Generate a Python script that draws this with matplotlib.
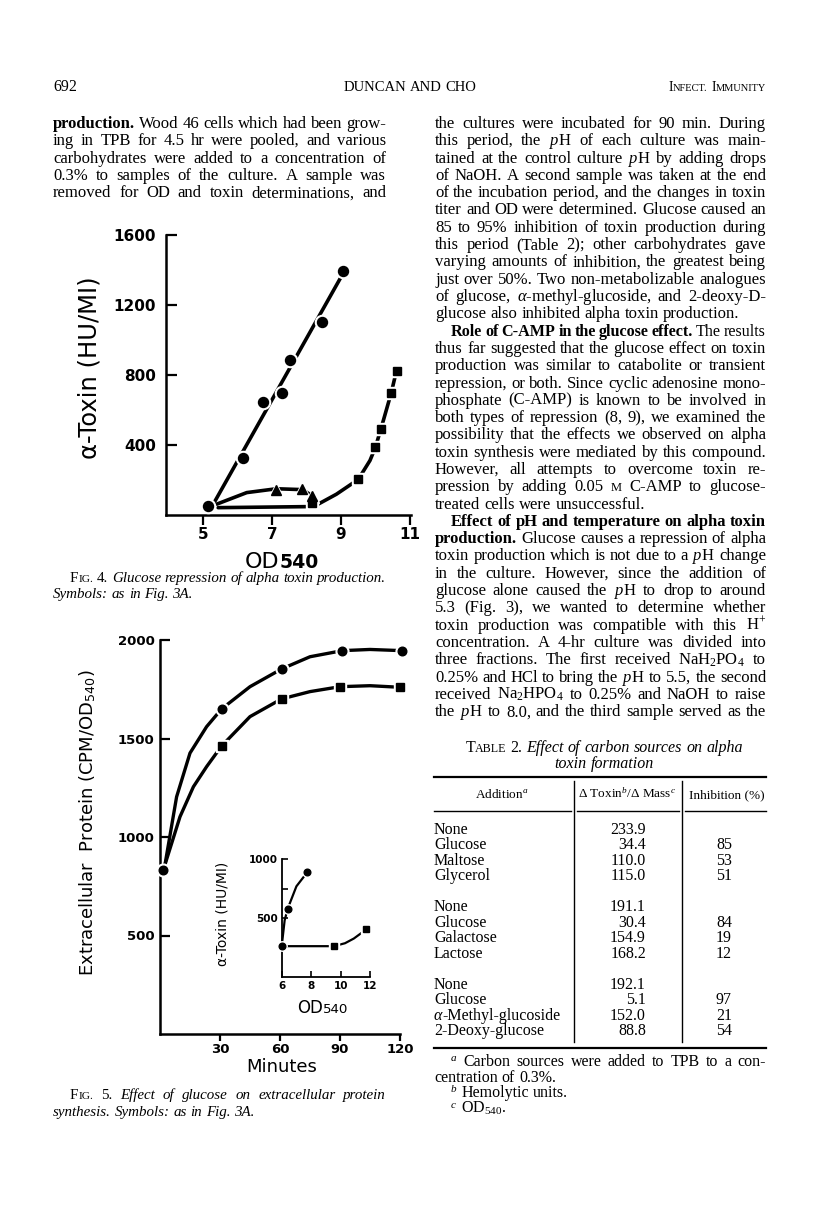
import matplotlib.pyplot as plt

W, H = 816, 1228
SERIF = 'Liberation Serif'
SANS = 'DejaVu Sans'

plt.rcParams['mathtext.fontset'] = 'custom'
plt.rcParams['mathtext.rm'] = 'Liberation Serif'
plt.rcParams['mathtext.it'] = 'Liberation Serif:italic'
plt.rcParams['mathtext.bf'] = 'Liberation Serif:bold'
plt.rcParams['mathtext.sf'] = 'DejaVu Sans'

# ── Fig. 4 data (OD540 vs alpha toxin) ───────────────────────────────────────
F4_XTICKS = [5, 7, 9, 11]
F4_YTICKS = [400, 800, 1200, 1600]
F4_CIRC_X = [5.14, 6.17, 6.73, 7.28, 7.53, 8.44, 9.05]
F4_CIRC_Y = [52, 326, 645, 695, 886, 1101, 1394]
F4_LINE_X = [5.30, 9.02]
F4_LINE_Y = [62, 1366]
F4_TRI_X = [7.13, 7.88, 8.17]
F4_TRI_Y = [142, 148, 108]
F4_TRI_CURVE_X = [5.40, 6.27, 7.13, 7.88, 8.17]
F4_TRI_CURVE_Y = [62, 128, 150, 145, 110]
F4_FLAT_X = [5.44, 8.10]
F4_FLAT_Y = [42, 48]
F4_SQ_X = [8.15, 9.50, 10.00, 10.15, 10.46, 10.61]
F4_SQ_Y = [67, 203, 387, 491, 700, 825]
F4_SQ_CURVE_X = [8.34, 8.87, 9.50, 9.84, 10.00, 10.23, 10.46, 10.61]
F4_SQ_CURVE_Y = [62, 119, 203, 311, 387, 541, 700, 825]

# ── Fig. 5 data (minutes vs extracellular protein) ───────────────────────────
F5_XTICKS = [30, 60, 90, 120]
F5_YTICKS = [500, 1000, 1500, 2000]
F5_CIRC_X = [1.7, 30.8, 60.8, 91.2, 120.8]
F5_CIRC_Y = [832, 1650, 1853, 1946, 1946]
F5_SQ_X = [30.8, 60.8, 90.0, 120.0]
F5_SQ_Y = [1462, 1701, 1763, 1760]
F5_CIRC_CURVE_X = [2.5, 8.3, 15, 23.3, 30.8, 45, 60.8, 75, 91.2, 105, 120.8]
F5_CIRC_CURVE_Y = [860, 1204, 1426, 1560, 1650, 1763, 1853, 1915, 1946, 1952, 1946]
F5_SQ_CURVE_X = [2.5, 10, 16.7, 23.3, 30.8, 45, 60.8, 75, 90, 105, 120]
F5_SQ_CURVE_Y = [860, 1103, 1255, 1357, 1462, 1611, 1701, 1738, 1763, 1768, 1760]

# inset
INS_XTICKS = [6, 8, 10, 12]
INS_YTICKS = [500, 1000]
INS_YMINOR = [250, 750]
INS_CIRC_X = [6.0, 6.41, 7.74]
INS_CIRC_Y = [260, 580, 890]
INS_SQ_X = [9.54, 11.76]
INS_SQ_Y = [260, 404]
INS_CIRC_CURVE_X = [6.0, 6.2, 6.41, 7.0, 7.74]
INS_CIRC_CURVE_Y = [260, 480, 580, 770, 890]
INS_SQ_CURVE_X = [6.0, 9.54, 10.3, 10.9, 11.76]
INS_SQ_CURVE_Y = [260, 260, 285, 325, 404]

# ── Table 2 data ─────────────────────────────────────────────────────────────
TABLE_ADDITION = ['None', 'Glucose', 'Maltose', 'Glycerol',
                  'None', 'Glucose', 'Galactose', 'Lactose',
                  'None', 'Glucose', '\u03b1-Methyl-glucoside', '2-Deoxy-glucose']
TABLE_RATIO = [233.9, 34.4, 110.0, 115.0, 191.1, 30.4, 154.9, 168.2,
               192.1, 5.1, 152.0, 88.8]
TABLE_INHIB = [None, 85, 53, 51, None, 84, 19, 12, None, 97, 21, 54]
TABLE_GROUP = [0, 0, 0, 0, 1, 1, 1, 1, 2, 2, 2, 2]

# ── Body text ────────────────────────────────────────────────────────────────
LEFT_TEXT = [
    "*production. Wood 46 cells which had been grow-",
    "ing in TPB for 4.5 hr were pooled, and various",
    "carbohydrates were added to a concentration of",
    "0.3% to samples of the culture. A sample was",
    "removed for OD and toxin determinations, and",
]
RIGHT_TEXT = [
    "the cultures were incubated for 90 min. During",
    "this period, the $p$H of each culture was main-",
    "tained at the control culture $p$H by adding drops",
    "of NaOH. A second sample was taken at the end",
    "of the incubation period, and the changes in toxin",
    "titer and OD were determined. Glucose caused an",
    "85 to 95% inhibition of toxin production during",
    "this period (Table 2); other carbohydrates gave",
    "varying amounts of inhibition, the greatest being",
    "just over 50%. Two non-metabolizable analogues",
    "of glucose, $\\alpha$-methyl-glucoside, and 2-deoxy-D-",
    "glucose also inhibited alpha toxin production.",
    "*Role *of *C-AMP *in *the *glucose *effect. The results",
    "thus far suggested that the glucose effect on toxin",
    "production was similar to catabolite or transient",
    "repression, or both. Since cyclic adenosine mono-",
    "phosphate (C-AMP) is known to be involved in",
    "both types of repression (8, 9), we examined the",
    "possibility that the effects we observed on alpha",
    "toxin synthesis were mediated by this compound.",
    "However, all attempts to overcome toxin re-",
    "pression by adding 0.05 ~M C-AMP to glucose-",
    "treated cells were unsuccessful.",
    "*Effect *of *pH *and *temperature *on *alpha *toxin",
    "*production. Glucose causes a repression of alpha",
    "toxin production which is not due to a $p$H change",
    "in the culture. However, since the addition of",
    "glucose alone caused the $p$H to drop to around",
    "5.3 (Fig. 3), we wanted to determine whether",
    "toxin production was compatible with this H$^{+}$",
    "concentration. A 4-hr culture was divided into",
    "three fractions. The first received NaH$_2$PO$_4$ to",
    "0.25% and HCl to bring the $p$H to 5.5, the second",
    "received Na$_2$HPO$_4$ to 0.25% and NaOH to raise",
    "the $p$H to 8.0, and the third sample served as the",
]
RIGHT_PARA_END = {11, 22}
RIGHT_INDENT = {12, 23}

# ── Page canvas in pixel coordinates ─────────────────────────────────────────
fig = plt.figure(figsize=(W / 100, H / 100), dpi=100)
bg = fig.add_axes([0, 0, 1, 1])
bg.set_xlim(0, W)
bg.set_ylim(H, 0)
bg.axis('off')
R = fig.canvas.get_renderer()


def seg(s, **kw):
    opts = dict(family=SERIF, size=11, va='baseline', ha='left', color='black')
    opts.update(kw)
    t = bg.text(0, 0, s, **opts)
    return t, t.get_window_extent(R).width


def space_w(size):
    a, wa = seg('a a', size=size)
    b, wb = seg('aa', size=size)
    a.remove(); b.remove()
    return wa - wb


def parse(text, style=None):
    out = []
    for w in text.split(' '):
        kw = {} if style is None else {'style': style}
        if w.startswith('*'):
            w = w[1:]; kw['weight'] = 'bold'
        elif w.startswith('~'):
            w = w[1:]; kw['scale'] = 0.75
        out.append([(w, kw)])
    return out


def build(words, size):
    built = []
    for wd in words:
        parts = []
        for s, kw in wd:
            kw = dict(kw)
            sz = size * kw.pop('scale', 1.0)
            parts.append(seg(s, size=sz, **kw))
        built.append(parts)
    return built


def line(x, y, words, size=11, mode='left', x1=None):
    while True:
        built = build(words, size)
        widths = [sum(w for _, w in b) for b in built]
        sp = space_w(size)
        gap = sp
        if mode == 'justify' and len(built) > 1:
            gap = (x1 - x - sum(widths)) / (len(built) - 1)
            if gap < 0.55 * sp:
                # line too long for the column: shrink a little and retry
                for b in built:
                    for t, _ in b:
                        t.remove()
                size *= 0.97
                continue
        break
    total = sum(widths) + gap * (len(built) - 1)
    if mode == 'right':
        x = x - total
    elif mode == 'center':
        x = x - total / 2
    for b in built:
        for t, w in b:
            t.set_position((x, y))
            x += w
        x += gap


# ── Running head ─────────────────────────────────────────────────────────────
line(53, 91, [[('692', {})]], size=11.5)
line(410, 91, parse('DUNCAN AND CHO'), size=10.5, mode='center')
line(766, 91, [[('I', {}), ('NFECT.', {'scale': 0.75})],
               [('I', {}), ('MMUNITY', {'scale': 0.75})]], size=10, mode='right')

# ── Columns of body text ─────────────────────────────────────────────────────
BODY = 12.0
for i, s in enumerate(LEFT_TEXT):
    line(53, 128 + 17.3 * i, parse(s), size=BODY, mode='justify', x1=386)
for i, s in enumerate(RIGHT_TEXT):
    x0 = 451 if i in RIGHT_INDENT else 435
    mode = 'left' if i in RIGHT_PARA_END else 'justify'
    line(x0, 128 + 17.3 * i, parse(s), size=BODY, mode=mode, x1=766)

# ── Figure captions ──────────────────────────────────────────────────────────
CAP = 10.8
line(70, 582, [[('F', {}), ('IG.', {'scale': 0.75})], [('4.', {})]]
     + parse('Glucose repression of alpha toxin production.', 'italic'),
     size=CAP, mode='justify', x1=386)
line(53, 598, parse('Symbols: as in Fig. 3A.', 'italic'), size=CAP)
line(70, 1099, [[('F', {}), ('IG.', {'scale': 0.75})], [('5.', {})]]
     + parse('Effect of glucose on extracellular protein', 'italic'),
     size=CAP, mode='justify', x1=386)
line(53, 1116, parse('synthesis. Symbols: as in Fig. 3A.', 'italic'), size=CAP)

# ── Table 2 ──────────────────────────────────────────────────────────────────
TB = 11.5
line(604, 752, [[('T', {}), ('ABLE', {'scale': 0.75})], [('2.', {})]]
     + parse('Effect of carbon sources on alpha', 'italic'), size=11.5, mode='center')
line(604, 768, parse('toxin formation', 'italic'), size=11.5, mode='center')

bg.plot([434, 766], [777, 777], color='black', lw=1.6)
bg.plot([434, 766], [1048, 1048], color='black', lw=1.6)
for a, b in [(434, 571), (577, 679), (685, 766)]:
    bg.plot([a, b], [811, 811], color='black', lw=1.0)
for xv in (574, 682):
    bg.plot([xv, xv], [781, 1042], color='black', lw=1.0)

bg.text(502, 798, 'Addition$^{a}$', family=SERIF, size=9.5, ha='center', va='baseline')
bg.text(627, 798, '$\\Delta$ Toxin$^{b}$/$\\Delta$ Mass$^{c}$', family=SERIF,
        size=9.5, ha='center', va='baseline')
bg.text(727, 798, 'Inhibition (%)', family=SERIF, size=9.5, ha='center', va='baseline')

for i, (name, ratio, inh, g) in enumerate(zip(TABLE_ADDITION, TABLE_RATIO,
                                              TABLE_INHIB, TABLE_GROUP)):
    yb = 834 + 15.4 * i + 15.8 * g
    if name.startswith('\u03b1'):
        line(434, yb, [[(name[0], {'style': 'italic'}), (name[1:], {})]], size=TB)
    else:
        bg.text(434, yb, name, family=SERIF, size=TB, va='baseline')
    bg.text(646, yb, f'{ratio:.1f}', family=SERIF, size=TB, ha='right', va='baseline')
    if inh is not None:
        bg.text(732, yb, str(inh), family=SERIF, size=TB, ha='right', va='baseline')

line(450, 1066, [[('$^{a}$', {})]] + parse('Carbon sources were added to TPB to a con-'),
     size=TB, mode='justify', x1=766)
line(434, 1082, parse('centration of 0.3%.'), size=TB)
line(450, 1097, [[('$^{b}$', {})]] + parse('Hemolytic units.'), size=TB)
line(450, 1113, [[('$^{c}$', {})], [('OD$_{540}$.', {})]], size=TB)


# ── Plot helpers ─────────────────────────────────────────────────────────────
def style_axes(ax, lw=1.8):
    ax.patch.set_facecolor('none')
    for side in ('top', 'right'):
        ax.spines[side].set_visible(False)
    for side in ('left', 'bottom'):
        ax.spines[side].set_linewidth(lw)


def marks(ax, x, y, m, ms, halo=3.0):
    ax.plot(x, y, ls='none', marker=m, ms=ms + halo, mfc='white', mec='white',
            zorder=3, clip_on=False)
    ax.plot(x, y, ls='none', marker=m, ms=ms, color='black', zorder=4, clip_on=False)


def curve(ax, x, y, lw):
    ax.plot(x, y, color='black', lw=lw, solid_capstyle='round',
            solid_joinstyle='round', zorder=2, clip_on=False)


def px_rect(left, right, bottom, top):
    return [left / W, 1 - bottom / H, (right - left) / W, (bottom - top) / H]


# ── Fig. 4 ───────────────────────────────────────────────────────────────────
ax4 = fig.add_axes(px_rect(166, 411, 515, 235))
style_axes(ax4)
ax4.set_xlim(3.93, 11.03)
ax4.set_ylim(0, 1600)
curve(ax4, F4_LINE_X, F4_LINE_Y, 2.6)
curve(ax4, F4_TRI_CURVE_X, F4_TRI_CURVE_Y, 2.6)
curve(ax4, F4_FLAT_X, F4_FLAT_Y, 2.6)
curve(ax4, F4_SQ_CURVE_X, F4_SQ_CURVE_Y, 2.6)
marks(ax4, F4_CIRC_X, F4_CIRC_Y, 'o', 7.2)
marks(ax4, F4_SQ_X, F4_SQ_Y, 's', 6.3)
marks(ax4, F4_TRI_X, F4_TRI_Y, '^', 6.8)
ax4.set_xticks(F4_XTICKS)
ax4.set_xticklabels([str(v) for v in F4_XTICKS], family=SANS, weight='bold', size=11)
ax4.set_yticks(F4_YTICKS)
ax4.set_yticklabels([str(v) for v in F4_YTICKS], family=SANS, weight='bold', size=11)
ax4.tick_params(axis='x', direction='out', length=7, width=1.6, pad=1.5)
ax4.tick_params(axis='y', direction='in', length=8, width=1.6, pad=7)

bg.text(90, 368, '\u03b1-Toxin (HU/MI)', family=SANS, size=17.5, rotation=90,
        ha='center', va='center')
line(282, 568, [[('OD', {'family': SANS}),
                 ('540', {'family': SANS, 'weight': 'bold', 'scale': 0.85})]],
     size=16, mode='center')

# ── Fig. 5 ───────────────────────────────────────────────────────────────────
ax5 = fig.add_axes(px_rect(160, 400, 1034, 640))
style_axes(ax5)
ax5.set_xlim(0, 120)
ax5.set_ylim(0, 2000)
curve(ax5, F5_CIRC_CURVE_X, F5_CIRC_CURVE_Y, 2.4)
curve(ax5, F5_SQ_CURVE_X, F5_SQ_CURVE_Y, 2.4)
marks(ax5, F5_CIRC_X, F5_CIRC_Y, 'o', 6.2)
marks(ax5, F5_SQ_X, F5_SQ_Y, 's', 5.4)
ax5.set_xticks(F5_XTICKS)
ax5.set_xticklabels([str(v) for v in F5_XTICKS], family=SANS, weight='bold', size=9.5)
ax5.set_yticks(F5_YTICKS)
ax5.set_yticklabels([str(v) for v in F5_YTICKS], family=SANS, weight='bold', size=9.5)
ax5.tick_params(axis='x', direction='out', length=5, width=1.6, pad=1.5)
ax5.tick_params(axis='y', direction='in', length=7, width=1.6, pad=4)

bg.text(88, 823, 'Extracellular  Protein (CPM/OD$_{\\mathsf{540}}$)', family=SANS,
        size=13, rotation=90, ha='center', va='center')
bg.text(282, 1067, 'Minutes', family=SANS, size=13, ha='center', va='center')

# inset
axi = fig.add_axes(px_rect(281.7, 370, 976.7, 859.3))
style_axes(axi, lw=1.3)
axi.set_xlim(6, 12)
axi.set_ylim(0, 1000)
curve(axi, INS_CIRC_CURVE_X, INS_CIRC_CURVE_Y, 1.6)
curve(axi, INS_SQ_CURVE_X, INS_SQ_CURVE_Y, 1.6)
marks(axi, INS_CIRC_X, INS_CIRC_Y, 'o', 4.8, halo=2)
marks(axi, INS_SQ_X, INS_SQ_Y, 's', 5.0, halo=2)
axi.set_xticks(INS_XTICKS)
axi.set_xticklabels([str(v) for v in INS_XTICKS], family=SANS, weight='bold', size=7.5)
axi.set_yticks(INS_YTICKS)
axi.set_yticklabels([str(v) for v in INS_YTICKS], family=SANS, weight='bold', size=7.5)
axi.set_yticks(INS_YMINOR, minor=True)
axi.tick_params(axis='both', which='both', direction='in', length=4, width=1.2, pad=3)

bg.text(223, 914, '\u03b1-Toxin (HU/MI)', family=SANS, size=10, rotation=90,
        ha='center', va='center')
line(323, 1013, [[('OD', {'family': SANS}), ('540', {'family': SANS, 'scale': 0.8})]],
     size=12, mode='center')

fig.savefig('out.png', dpi=100, facecolor='white')
